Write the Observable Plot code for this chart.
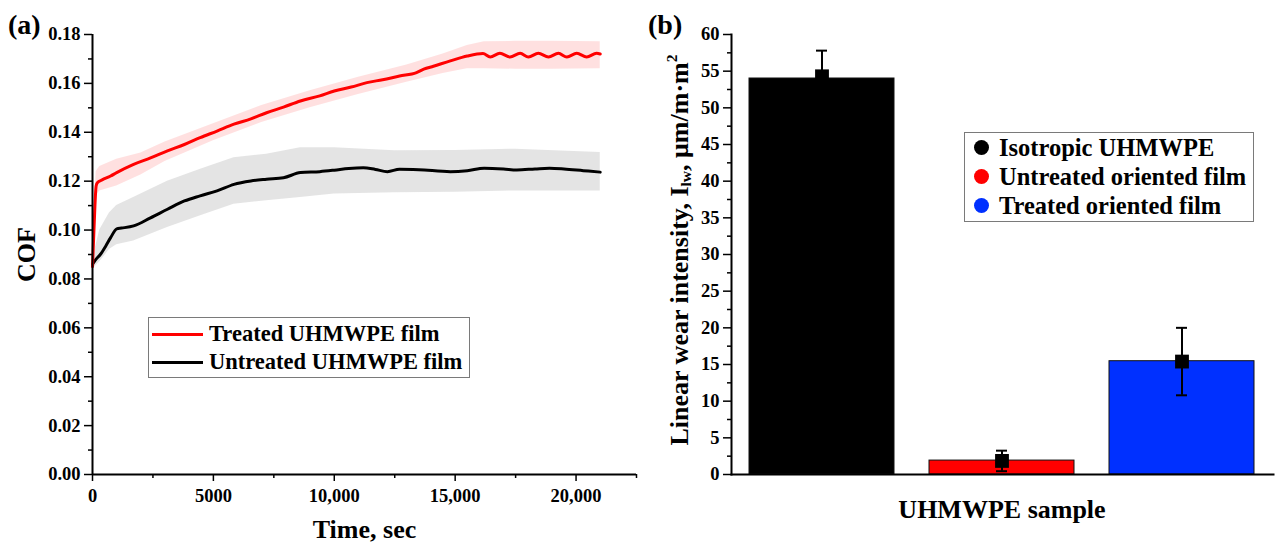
<!DOCTYPE html>
<html><head><meta charset="utf-8">
<script src="https://cdn.jsdelivr.net/npm/d3@7"></script>
<script src="https://cdn.jsdelivr.net/npm/@observablehq/plot@0.6"></script>
<style>
body{margin:0;background:#fff;}
#wrap{position:relative;width:1275px;height:547px;display:flex;font-family:"Liberation Serif","Times New Roman",serif;font-weight:bold;color:#000;}
#wrap svg{overflow:visible;}
g[aria-label="y-axis label"] text, g[aria-label="x-axis label"] text{font-size:26px;}
.abs{position:absolute;white-space:nowrap;}
.legend{position:absolute;border:1.5px solid #7a7a7a;background:#fff;box-sizing:border-box;}
.row{display:flex;align-items:center;}
.swl{display:inline-block;width:51px;height:3px;margin-left:3px;margin-right:6px;}
.swc{display:inline-block;width:15px;height:15px;border-radius:50%;margin-left:9px;margin-right:10px;}
</style></head>
<body>
<div id="wrap">
  <div id="left"></div>
  <div id="right"></div>
  <div class="abs" style="left:8px;top:9px;font-size:28px;">(a)</div>
  <div class="abs" style="left:648px;top:9px;font-size:28px;">(b)</div>
  <div class="legend" style="left:148px;top:317px;width:322px;height:61px;font-size:22.5px;padding-top:2px;">
    <div class="row" style="height:28px"><span class="swl" style="background:#ff0000"></span>Treated UHMWPE film</div>
    <div class="row" style="height:28px"><span class="swl" style="background:#000"></span>Untreated UHMWPE film</div>
  </div>
  <div class="legend" style="left:964px;top:132px;width:290px;height:90px;font-size:24.5px;padding-top:0px;">
    <div class="row" style="height:29px"><span class="swc" style="background:#000"></span>Isotropic UHMWPE</div>
    <div class="row" style="height:29px"><span class="swc" style="background:#ff0000"></span>Untreated oriented film</div>
    <div class="row" style="height:29px"><span class="swc" style="background:#0030ff"></span>Treated oriented film</div>
  </div>
  <div class="abs" style="left:679px;top:250px;font-size:26px;transform:translate(-50%,-50%) rotate(-90deg);">Linear wear intensity, I<sub style="font-size:60%;vertical-align:-0.25em">lw</sub>, μm/m·m<sup style="font-size:60%;vertical-align:0.7em">2</sup></div>
  <div class="abs" style="left:1002px;top:510px;font-size:26px;transform:translate(-50%,-50%);">UHMWPE sample</div>
</div>
<script>
// ---- Panel (a): COF vs time ----
const treatedT = [0,60,150,200,400,750,1000,1700,2400,3100,3800,4450,5150,5850,6550,7200,7900,8600,9400,10000,10700,11350,12000,12700,13400,13700,14100,14800,15500,16150,16450,16850,17270,17690,18030,18440,18860,19270,19620,20030,20440,20850,21000];
const treatedCOF = [0.085,0.100,0.118,0.1194,0.1205,0.1221,0.1235,0.1269,0.1295,0.1324,0.1350,0.1378,0.1405,0.1433,0.1455,0.1480,0.1503,0.1528,0.1549,0.1569,0.1585,0.1603,0.1615,0.1630,0.1644,0.1658,0.1670,0.1692,0.1712,0.1722,0.1708,0.1723,0.1708,0.1723,0.1708,0.1723,0.1708,0.1723,0.1708,0.1723,0.1708,0.1723,0.1720];
const untreatedT = [0,100,330,550,750,1000,1200,1700,2400,3100,3800,4450,5150,5850,6550,7200,7900,8600,9400,10000,10600,11200,11700,12200,12700,13500,14800,15500,16200,17000,17550,18300,18900,19500,20300,21000];
const untreatedCOF = [0.086,0.0875,0.0901,0.0935,0.0969,0.1005,0.1008,0.1017,0.1050,0.1085,0.1119,0.1140,0.1160,0.1187,0.1201,0.1208,0.1214,0.1235,0.1239,0.1245,0.1252,0.1255,0.1248,0.1239,0.1249,0.1247,0.1239,0.1243,0.1253,0.1250,0.1246,0.1250,0.1253,0.1250,0.1243,0.1237];
const treatedBandT = [0,150,300,1000,2000,3000,5000,7000,9000,11000,13000,14500,15500,16200,17500,19000,21000];
const treatedBandHi = [0.090,0.124,0.126,0.129,0.1315,0.136,0.1435,0.151,0.157,0.1625,0.1675,0.172,0.1755,0.177,0.1772,0.1772,0.177];
const treatedBandLo = [0.082,0.114,0.116,0.118,0.1225,0.128,0.1365,0.144,0.150,0.1555,0.1605,0.164,0.166,0.166,0.1658,0.1658,0.166];
const untreatedBandT = [0,300,700,1000,1700,3100,4500,5850,7200,8600,10000,12500,15000,17500,21000];
const untreatedBandHi = [0.088,0.100,0.107,0.110,0.1133,0.120,0.125,0.1296,0.131,0.1337,0.1337,0.1324,0.1325,0.1331,0.1317];
const untreatedBandLo = [0.084,0.087,0.092,0.094,0.0955,0.101,0.106,0.1106,0.112,0.1133,0.1147,0.1153,0.1155,0.116,0.116];
const cofTicks = [0,0.02,0.04,0.06,0.08,0.10,0.12,0.14,0.16,0.18];
const cofMinor = [0.01,0.03,0.05,0.07,0.09,0.11,0.13,0.15,0.17];
const timeTicks = [0,5000,10000,15000,20000];
const timeMinor = [2500,7500,12500,17500,22500];

// ---- Panel (b): wear intensity ----
const samples = ["Isotropic UHMWPE","Untreated oriented film","Treated oriented film"];
const wearBar = [54.0,1.9,15.45];
const wearMean = [54.3,1.85,15.4];
const wearErr = [3.5,1.4,4.6];
const sampleColors = ["#000000","#ff0000","#0030ff"];
const wearTicks = [0,5,10,15,20,25,30,35,40,45,50,55,60];
const wearMinor = [2.5,7.5,12.5,17.5,22.5,27.5,32.5,37.5,42.5,47.5,52.5,57.5];

const zip = (t, v) => t.map((x, i) => ({t: x, v: v[i]}));
const treated = zip(treatedT, treatedCOF);
const untreated = zip(untreatedT, untreatedCOF);
const tBand = treatedBandT.map((x, i) => ({t: x, lo: treatedBandLo[i], hi: treatedBandHi[i]}));
const uBand = untreatedBandT.map((x, i) => ({t: x, lo: untreatedBandLo[i], hi: untreatedBandHi[i]}));

const fontStyle = {fontFamily: '"Liberation Serif","Times New Roman",serif', fontWeight: "bold", fontSize: "18.5px", background: "#fff", color: "#000"};

const left = Plot.plot({
  width: 640, height: 547,
  marginLeft: 92, marginRight: 4, marginTop: 34, marginBottom: 73,
  style: fontStyle,
  x: {domain: [0, 22500]},
  y: {domain: [0, 0.18]},
  marks: [
    Plot.areaY(uBand, {x: "t", y1: "lo", y2: "hi", fill: "#b4b4b4", fillOpacity: 0.36, curve: "linear"}),
    Plot.areaY(tBand, {x: "t", y1: "lo", y2: "hi", fill: "#ff0000", fillOpacity: 0.12, curve: "linear"}),
    Plot.lineY(untreated, {x: "t", y: "v", stroke: "#000", strokeWidth: 3, curve: "monotone-x"}),
    Plot.lineY(treated, {x: "t", y: "v", stroke: "#ff0000", strokeWidth: 3, curve: "monotone-x"}),
    Plot.axisY({ticks: cofTicks, tickFormat: d3.format(".2f"), tickSize: 8, tickPadding: 4, strokeWidth: 1.5,
      label: "COF", labelAnchor: "center", labelArrow: "none", labelOffset: 76}),
    Plot.axisY({ticks: cofMinor, tickFormat: () => "", tickSize: 4, strokeWidth: 1.5, label: null}),
    Plot.axisX({ticks: timeTicks, tickFormat: d => d >= 10000 ? d3.format(",")(d) : String(d), tickSize: 7, tickPadding: 7, strokeWidth: 1.5,
      label: "Time, sec", labelAnchor: "center", labelArrow: "none", labelOffset: 63}),
    Plot.axisX({ticks: timeMinor, tickFormat: () => "", tickSize: 4, strokeWidth: 1.5, label: null}),
    Plot.ruleX([0], {strokeWidth: 2}),
    Plot.ruleY([0], {strokeWidth: 2})
  ]
});
document.getElementById("left").append(left);

const wear = samples.map((s, i) => ({sample: s, bar: wearBar[i], mean: wearMean[i], lo: wearMean[i] - wearErr[i], hi: wearMean[i] + wearErr[i]}));

const right = Plot.plot({
  width: 635, height: 547,
  marginLeft: 91, marginRight: 2, marginTop: 34, marginBottom: 73,
  style: fontStyle,
  x: {domain: samples, paddingInner: 0.193, paddingOuter: 0.094, axis: null},
  y: {domain: [0, 60]},
  color: {domain: samples, range: sampleColors},
  marks: [
    Plot.barY(wear, {x: "sample", y: "bar", fill: "sample", stroke: "#111", strokeWidth: 1}),
    Plot.ruleX(wear, {x: "sample", y1: "lo", y2: "hi", stroke: "#000", strokeWidth: 2}),
    Plot.tickY(wear, {x: "sample", y: "hi", insetLeft: 67, insetRight: 67, stroke: "#000", strokeWidth: 2}),
    Plot.tickY(wear, {x: "sample", y: "lo", insetLeft: 67, insetRight: 67, stroke: "#000", strokeWidth: 2}),
    Plot.dot(wear, {x: "sample", y: "mean", symbol: "square", r: 7.8, fill: "#000"}),
    Plot.axisY({ticks: wearTicks, tickSize: 8, tickPadding: 4, strokeWidth: 1.5, label: null}),
    Plot.axisY({ticks: wearMinor, tickFormat: () => "", tickSize: 4, strokeWidth: 1.5, label: null}),
    Plot.frame({anchor: "left", strokeWidth: 2}),
    Plot.frame({anchor: "bottom", strokeWidth: 2})
  ]
});
document.getElementById("right").append(right);
</script>
</body></html>
